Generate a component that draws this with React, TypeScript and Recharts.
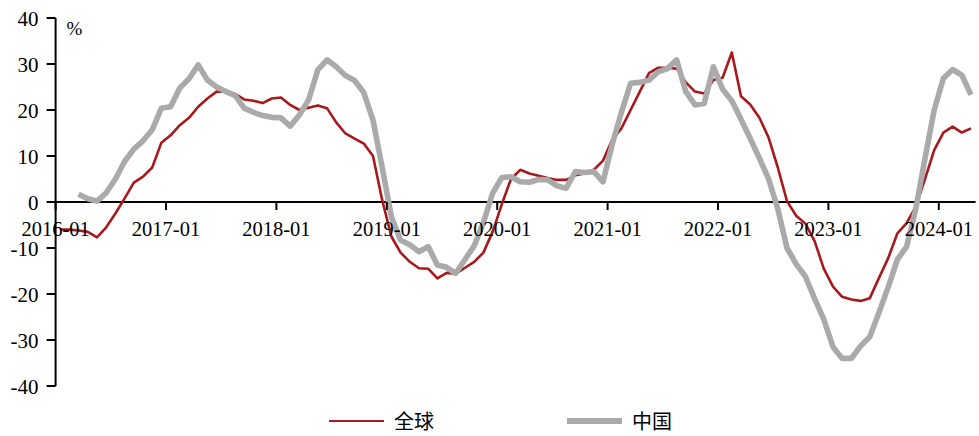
import React from 'react';
import { LineChart, Line, XAxis, YAxis, ReferenceLine, Legend } from 'recharts';

// Monthly series, 2016-01 .. 2024-04 (100 months)
const globalValues: number[] = [
  -6.0, -6.0, -6.2, -6.5, -7.7, -5.5, -2.5, 0.8, 4.2, 5.5,
  7.5, 12.9, 14.5, 16.7, 18.3, 20.7, 22.5, 24.0, 24.0, 23.5,
  22.3, 22.0, 21.5, 22.5, 22.7, 21.1, 20.0, 20.5, 21.0, 20.4,
  17.3, 14.9, 13.8, 12.7, 10.0, 0.4, -7.5, -11.0, -13.0, -14.4,
  -14.5, -16.6, -15.4, -15.6, -14.3, -13.0, -11.0, -6.5, -0.5, 5.0,
  7.0, 6.2, 5.7, 5.2, 4.8, 4.8, 5.8, 6.2, 7.0, 9.0,
  13.5, 16.0, 20.0, 24.0, 28.0, 29.2, 29.2, 29.0, 26.0, 24.0,
  23.6, 26.5, 27.0, 32.5, 23.0, 21.2, 18.3, 14.0, 7.5, 0.2,
  -3.0, -4.7, -8.5, -14.5, -18.4, -20.6, -21.2, -21.5, -20.9, -16.5,
  -12.2, -6.8, -4.6, -1.0, 5.0, 11.3, 15.1, 16.4, 15.1, 16.0,
];

const chinaValues: (number | null)[] = [
  null, null, 1.7, 0.7, 0.2, 2.0, 5.0, 8.8, 11.5, 13.3,
  15.7, 20.4, 20.7, 24.8, 26.8, 29.8, 26.5, 25.0, 24.0, 23.2,
  20.4, 19.5, 18.8, 18.4, 18.3, 16.5, 18.9, 22.2, 28.7, 30.9,
  29.4, 27.5, 26.4, 23.8, 17.8, 7.5, -3.2, -8.3, -9.3, -10.8,
  -9.7, -13.7, -14.2, -15.5, -12.5, -9.5, -4.5, 1.9, 5.3, 5.5,
  4.4, 4.3, 4.9, 4.8, 3.5, 3.0, 6.6, 6.4, 6.6, 4.4,
  12.5, 19.5, 25.8, 26.0, 26.5, 28.3, 29.0, 30.9, 24.0, 21.1,
  21.4, 29.4, 24.5, 22.0, 18.0, 13.8, 9.5, 5.0, -1.5, -10.0,
  -13.5, -16.2, -21.0, -25.5, -31.5, -34.0, -34.0, -31.3, -29.3, -24.0,
  -18.5, -12.5, -9.7, -1.5, 9.5, 20.0, 26.9, 28.8, 27.6, 23.3,
];

const tickLabels: string[] = [
  '2016-01', '2017-01', '2018-01', '2019-01', '2020-01',
  '2021-01', '2022-01', '2023-01', '2024-01',
];

const yTicks: number[] = [-40, -30, -20, -10, 0, 10, 20, 30, 40];

const seriesNames = { global: '全球', china: '中国' };

const RED = '#A8191D';
const GRAY = '#AAAAAA';
const RED_W = 2.6;
const GRAY_W = 5.6;

const MONTHS_PER_TICK = 12;
const xTicks = tickLabels.map((_, i) => i * MONTHS_PER_TICK);

const data = globalValues.map((g, i) => ({
  x: i + 0.5, // each month sits in the centre of its category slot
  global: g,
  china: chinaValues[i],
}));

const W = 979;
const H = 436;
const TOP = 18;
const PLOT_H = 368;
const X_AXIS_H = 20;
const BOTTOM = H - TOP - PLOT_H - X_AXIS_H;
const ZERO_Y = TOP + PLOT_H / 2; // y-domain is symmetric, so 0 sits mid-plot

const SERIF = '"Liberation Serif", "Times New Roman", serif';
const CJK = '"Noto Sans CJK SC", sans-serif';

const XTick = (props: any) => {
  const { x, payload } = props;
  const label = tickLabels[Math.round(Number(payload.value) / MONTHS_PER_TICK)];
  return (
    <g>
      <line x1={x} x2={x} y1={ZERO_Y} y2={ZERO_Y + 8} stroke="#000" strokeWidth={2} />
      <text
        x={x}
        y={ZERO_Y + 34}
        textAnchor="middle"
        fontFamily={SERIF}
        fontSize={20.5}
        fill="#000"
      >
        {label}
      </text>
    </g>
  );
};

const legendPos: Record<string, { x: number; w: number }> = {
  global: { x: 329, w: RED_W },
  china: { x: 567, w: GRAY_W },
};

const renderLegend = (props: any) => {
  const { payload } = props;
  return (
    <div style={{ position: 'relative', width: W, height: 22 }}>
      {(payload || []).map((entry: any, idx: number) => {
        const pos = legendPos[String(entry.dataKey)] || { x: 329 + idx * 238, w: 3 };
        return (
          <div
            key={idx}
            style={{
              position: 'absolute',
              left: pos.x,
              top: 0,
              height: 22,
              display: 'flex',
              alignItems: 'center',
            }}
          >
            <div style={{ width: 55, height: pos.w, background: entry.color }} />
            <span
              style={{
                marginLeft: 10,
                fontSize: 20,
                fontFamily: CJK,
                color: '#000',
                lineHeight: '22px',
              }}
            >
              {entry.value}
            </span>
          </div>
        );
      })}
    </div>
  );
};

const PercentLabel = (props: any) => {
  const vb = props.viewBox || {};
  return (
    <text
      x={(vb.x || 0) + (vb.width || 0) + 11}
      y={(vb.y || 0) + 17}
      fontFamily={SERIF}
      fontSize={19}
      fill="#000"
    >
      %
    </text>
  );
};

export default function App() {
  return (
    <div style={{ position: 'absolute', left: 0, top: 0, width: W, height: H, background: '#fff' }}>
      <LineChart
        width={W}
        height={H}
        data={data}
        margin={{ top: TOP, right: 3.4, bottom: BOTTOM, left: 0 }}
      >
        <XAxis
          type="number"
          dataKey="x"
          domain={[0, 100]}
          ticks={xTicks}
          axisLine={false}
          tickLine={false}
          height={X_AXIS_H}
          tick={<XTick />}
          interval={0}
          allowDataOverflow
        />
        <YAxis
          type="number"
          domain={[-40, 40]}
          ticks={yTicks}
          width={55.6}
          axisLine={{ stroke: '#000', strokeWidth: 2 }}
          tickLine={{ stroke: '#000', strokeWidth: 2 }}
          tickSize={9}
          tickMargin={8}
          tick={{ fontFamily: SERIF, fontSize: 21, fill: '#000', dy: 1 }}
          interval={0}
          label={<PercentLabel />}
        />
        <ReferenceLine y={0} stroke="#000" strokeWidth={2} />
        <Line
          type="linear"
          dataKey="global"
          name={seriesNames.global}
          stroke={RED}
          strokeWidth={RED_W}
          dot={false}
          isAnimationActive={false}
          strokeLinejoin="round"
        />
        <Line
          type="linear"
          dataKey="china"
          name={seriesNames.china}
          stroke={GRAY}
          strokeWidth={GRAY_W}
          dot={false}
          isAnimationActive={false}
          strokeLinejoin="round"
          connectNulls={false}
        />
        <Legend
          layout="horizontal"
          verticalAlign="middle"
          align="center"
          itemSorter={null as any}
          content={renderLegend}
          wrapperStyle={{ position: 'absolute', top: 410, left: 0, width: W }}
        />
      </LineChart>
    </div>
  );
}
